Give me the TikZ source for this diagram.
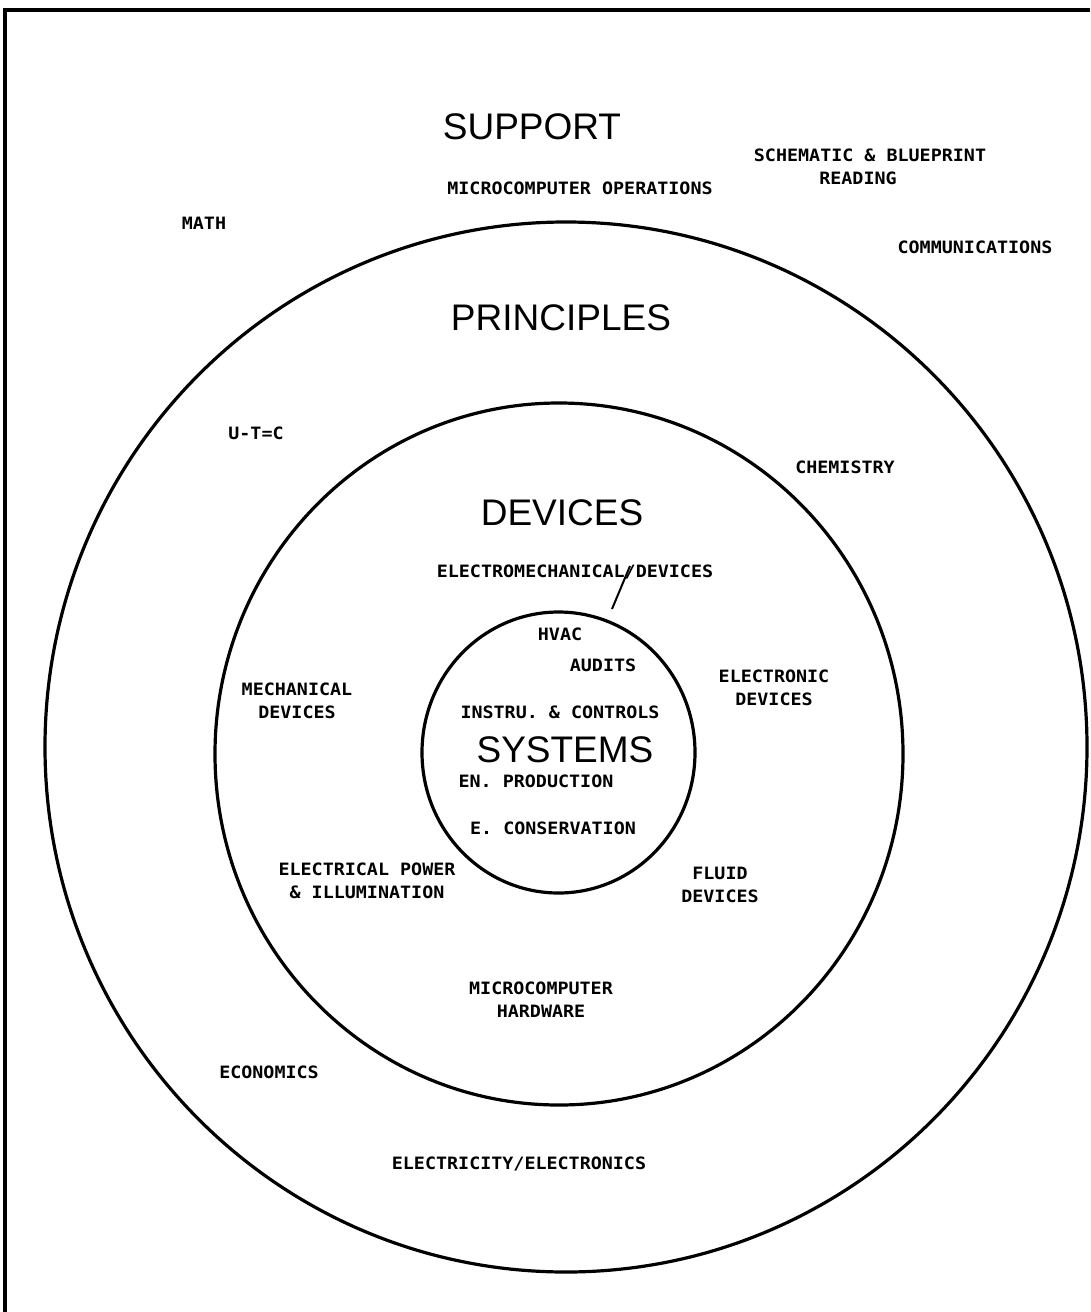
\documentclass[tikz,border=0pt]{standalone}
\usepackage{fontspec}
\setmainfont{Liberation Sans}
\newfontfamily\typefont[FakeStretch=1.08]{DejaVu Sans Mono}
\usetikzlibrary{positioning}

\begin{document}
\begin{tikzpicture}[x=1pt, y=-1pt,
  lbl/.style={font=\typefont\bfseries\fontsize{17}{23}\selectfont, align=center, inner sep=0pt},
  ttl/.style={font=\fontsize{37}{40}\selectfont, inner sep=0pt},
  ring/.style={draw, line width=3.2pt}]
  \useasboundingbox (0,0) rectangle (1090,1312);
  % frame, top and left only
  \draw[line width=4.5pt] (5,1312) -- (5,10) -- (1090,10);
  % the three rings
  \draw[ring] (566,747) ellipse (521pt and 525pt);
  \draw[ring] (559,754) ellipse (344pt and 351pt);
  \draw[ring] (558.5,752.5) ellipse (136.5pt and 140.5pt);

  % support
  \node[ttl] (support) at (532,127) {SUPPORT};
  \node[lbl] (mcops) at (580,188) {MICROCOMPUTER OPERATIONS};
  \node[lbl] (schem) at (870,167) {SCHEMATIC \& BLUEPRINT\\\hspace*{-24pt}READING};
  \node[lbl] (math) at (204,223) {MATH};
  \node[lbl] (comm) at (975,247) {COMMUNICATIONS};

  % principles
  \node[ttl] (princ) at (561,318) {PRINCIPLES};
  \node[lbl] (utc) at (256,433) {U-T=C};
  \node[lbl] (chem) at (845,467) {CHEMISTRY};
  \node[lbl] (econ) at (269,1072) {ECONOMICS};
  \node[lbl] (elec) at (519,1164) {ELECTRICITY/ELECTRONICS};

  % devices
  \node[ttl] (dev) at (562,513) {DEVICES};
  \node[lbl] (emdev) at (575,572) {ELECTROMECHANICAL/DEVICES};
  \node[lbl] (mech) at (297,701) {MECHANICAL\\DEVICES};
  \node[lbl] (etron) at (774,688) {ELECTRONIC\\DEVICES};
  \node[lbl] (fluid) at (720,885) {FLUID\\DEVICES};
  \node[lbl] (power) at (367,881) {ELECTRICAL POWER\\\& ILLUMINATION};
  \node[lbl] (mchw) at (541,1000) {MICROCOMPUTER\\HARDWARE};

  % systems
  \node[ttl] (sys) at (565,750) {SYSTEMS};
  \node[lbl] (hvac) at (560,634) {HVAC};
  \node[lbl] (audit) at (603,665) {AUDITS};
  \node[lbl] (instr) at (560,712) {INSTRU. \& CONTROLS};
  \node[lbl] (enprod) at (536,781) {EN. PRODUCTION};
  \node[lbl] (econs) at (553,828) {E. CONSERVATION};

  % long stroke of the slash
  \coordinate (slashtop) at (630,566);
  \coordinate (slashend) at (612,609);
  \draw[line width=2pt] (slashtop) -- (slashend);
\end{tikzpicture}
\end{document}
